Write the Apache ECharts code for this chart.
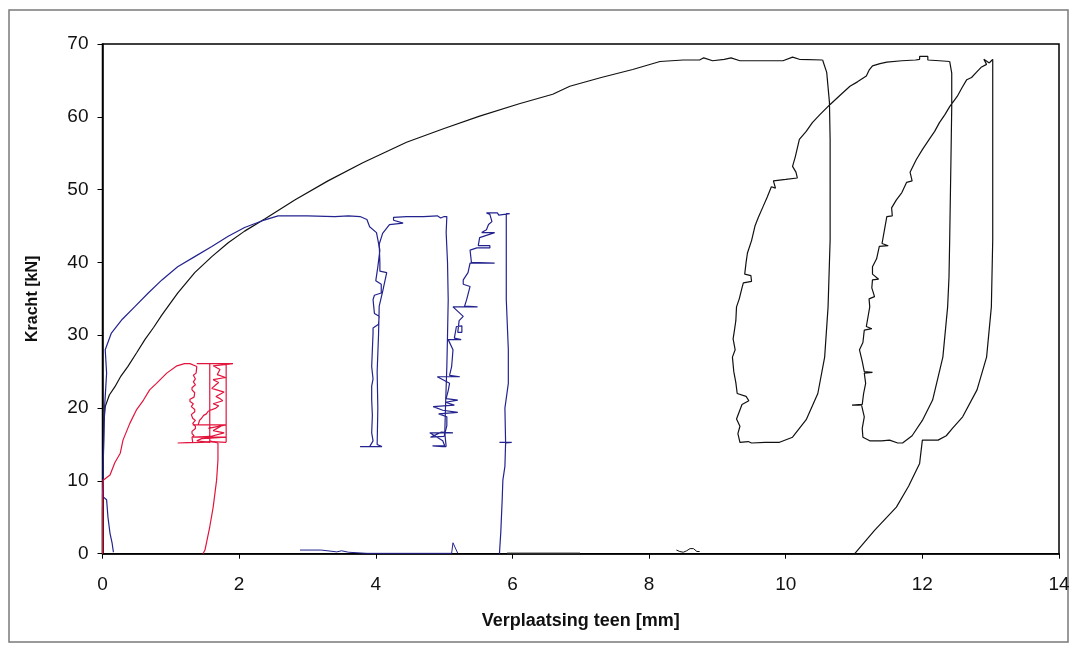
<!DOCTYPE html>
<html>
<head>
<meta charset="utf-8">
<script src="https://cdn.jsdelivr.net/npm/echarts@6/dist/echarts.min.js"></script>
<style>
html,body{margin:0;padding:0;background:#fff;}
#chart{width:1076px;height:650px;}
</style>
</head>
<body>
<div id="chart"></div>
<script>
// ---- axis ticks ----
var xTicks = [0, 2, 4, 6, 8, 10, 12, 14];
var yTicks = [0, 10, 20, 30, 40, 50, 60, 70];
var xTitle = 'Verplaatsing teen [mm]';
var yTitle = 'Kracht [kN]';

// ---- red test ----
var redLoad = [[0,0],[0,4],[0,8],[0.01,10.1],[0.11,10.8],[0.18,12.5],[0.26,13.8],[0.3,15.6],[0.4,17.9],[0.5,19.8],[0.6,21.1],[0.69,22.5],[0.79,23.4],[0.94,24.8],[1.09,25.8],[1.2,26.1],[1.28,26.1],[1.38,25.7],[1.37,24.8],[1.33,24.5],[1.36,24],[1.33,23.6],[1.36,23.2],[1.31,22.8],[1.31,22.5],[1.35,22.1],[1.34,21.5],[1.28,21.2],[1.28,20.9],[1.33,20.6],[1.3,20.2],[1.35,19.8],[1.35,19.5],[1.3,19.1],[1.32,18.6],[1.36,18.3],[1.32,17.9],[1.36,17.5],[1.36,17.2],[1.31,16.8],[1.31,16.5],[1.34,16.2],[1.31,16],[1.32,15.3],[1.1,15.2],[1.45,15.3],[1.6,15.4],[1.81,15.3]];
var redCycles = [[1.81,15.3],[1.81,26.1],[1.38,26.1],[1.91,26.1],[1.62,25.8],[1.72,25.3],[1.68,24.6],[1.8,24.2],[1.62,23.9],[1.7,23.5],[1.66,23.2],[1.6,22.7],[1.78,22.2],[1.66,21.6],[1.72,21.3],[1.76,21],[1.62,20.6],[1.7,20.3],[1.66,20],[1.55,19.6],[1.52,19.2],[1.48,19],[1.45,18.6],[1.42,18.3],[1.4,17.7],[1.32,17.7],[1.81,17.7],[1.55,17.2],[1.75,17.6],[1.62,16.9],[1.78,16.6],[1.58,16.1],[1.32,16.0],[1.81,16.0],[1.45,15.8],[1.38,15.5],[1.57,15.3],[1.57,26.1],[1.57,15.5],[1.69,15.2]];
var redUnload = [[1.69,15.2],[1.69,12.9],[1.67,10.1],[1.62,6.4],[1.57,3.7],[1.5,0.5],[1.47,0]];

// ---- blue test ----
var blueLoad = [[0.16,0.2],[0.14,1.5],[0.11,2.8],[0.08,5],[0.06,7.4],[0.01,7.8],[0.01,12],[0.02,16],[0.03,20],[0.06,24.8],[0.04,28],[0.13,30.3],[0.29,32.2],[0.47,33.9],[0.67,35.8],[0.87,37.6],[1.1,39.4],[1.35,40.8],[1.6,42.2],[1.84,43.6],[2.08,44.8],[2.33,45.7],[2.57,46.4],[3.0,46.4],[3.4,46.3],[3.6,46.4],[3.77,46.3],[3.87,45.9],[3.91,44.9],[4.01,44.1],[4.06,41.7]];
var blueCycle1 = [[4.06,41.7],[4.03,39.4],[4.0,37.5],[4.08,37],[4.08,35.8],[3.98,35.5],[3.96,34.9],[3.98,33],[4.05,32.6],[4.04,31.5],[3.96,31],[3.96,30.3],[3.95,28],[3.94,25.7],[3.96,24],[3.94,23],[3.94,21.1],[3.95,19],[3.94,16.6],[3.96,15.5],[3.91,14.7],[3.77,14.7],[4.09,14.7],[4.02,15],[4.03,20],[4.02,25],[4.04,30],[4.05,34],[4.1,36],[4.16,38.6],[4.06,38.8],[4.06,40],[4.05,42.5],[4.1,44],[4.2,45.2],[4.4,45.4],[4.26,45.8],[4.26,46.2],[4.45,46.3],[4.7,46.3],[4.9,46.4],[4.95,46.1],[5.0,46.3],[5.04,46.3],[5.03,44.1],[5.05,40],[5.06,34.9],[5.05,30],[5.04,25.7],[5.02,20],[5.01,16.6],[5.03,14.7]];
var blueCycle2 = [[5.03,14.7],[4.98,14.7],[4.83,14.8],[5.01,14.8],[4.98,15.5],[4.79,16.6],[5.13,16.6],[4.96,16.7],[4.8,16.0],[5.0,16.1],[5.04,17.6],[5.04,18.8],[4.92,19.2],[5.2,19.4],[4.98,19.7],[4.84,20.2],[5.15,20.4],[5.02,20.8],[5.2,21.1],[5.03,21.3],[5.06,22.4],[5.08,23.4],[4.9,24.3],[5.23,24.3],[5.08,24.5],[5.11,25.7],[5.12,26.8],[5.13,28],[5.06,29.4],[5.25,29.4],[5.15,29.6],[5.18,31.2],[5.26,31.3],[5.26,30.4],[5.2,30.4],[5.22,32],[5.28,32.6],[5.13,33.9],[5.49,33.9],[5.3,34.0],[5.33,34.9],[5.38,36.7],[5.28,37.0],[5.28,37.6],[5.35,38.6],[5.38,39.9],[5.74,39.9],[5.4,40.0],[5.38,41.7],[5.48,42],[5.67,42],[5.67,42.3],[5.5,42.3],[5.52,43.4],[5.74,44.1],[5.55,44.1],[5.62,44.5],[5.65,45.2],[5.7,45.6],[5.67,46.6],[5.62,46.8],[5.78,46.8],[5.8,46.5],[5.78,46.3],[5.82,46.7],[5.96,46.7],[5.91,46.7],[5.91,40],[5.91,34.9],[5.94,28],[5.94,23.4],[5.89,20],[5.9,15.3],[5.81,15.3],[5.99,15.3],[5.9,15.2],[5.89,12],[5.86,10.1],[5.85,7.4],[5.83,3],[5.81,0]];
var blueBase = [[2.89,0.5],[3.2,0.5],[3.43,0.25],[3.5,0.4],[3.6,0.2],[3.87,0.05],[5.11,0.05],[5.13,1.5],[5.2,0.05]];

// ---- black test ----
var blackLoad = [[0,0],[0,6],[0.01,12],[0.02,18],[0.04,20.2],[0.1,21.8],[0.18,22.9],[0.27,24.4],[0.37,25.7],[0.5,27.6],[0.62,29.4],[0.75,31.1],[0.87,32.8],[1.1,35.8],[1.35,38.6],[1.6,40.8],[1.84,42.7],[2.08,44.3],[2.38,46.0],[2.82,48.6],[3.3,51.2],[3.81,53.7],[4.45,56.5],[5.0,58.4],[5.52,60.1],[6.1,61.8],[6.59,63.1],[6.84,64.2],[7.3,65.4],[7.76,66.5],[8.16,67.6],[8.5,67.8],[8.74,67.8],[8.8,68.1],[8.93,67.7],[9.1,67.9],[9.2,68.1],[9.33,67.7],[9.7,67.7],[9.96,67.7],[10.1,68.2],[10.2,67.9],[10.54,67.8]];
var blackCycle1 = [[10.54,67.8],[10.6,66.1],[10.64,62],[10.65,56.9],[10.65,43.1],[10.62,33.9],[10.57,27],[10.47,22],[10.3,18.4],[10.1,16],[9.91,15.3],[9.7,15.3],[9.5,15.2],[9.45,15.4],[9.33,15.3],[9.3,16.5],[9.33,17.5],[9.28,18.5],[9.32,19.5],[9.36,20.5],[9.46,21.0],[9.42,21.6],[9.29,22.0],[9.27,23.5],[9.24,25],[9.22,27],[9.26,28],[9.23,29.5],[9.25,30.7],[9.27,32],[9.28,33.9],[9.32,35],[9.36,36.5],[9.38,37.2],[9.5,37.4],[9.49,38.2],[9.4,38.4],[9.42,40],[9.44,41.3],[9.5,43],[9.55,45],[9.6,46.2],[9.67,47.7],[9.73,49],[9.79,50.4],[9.85,50.2],[9.82,51.2],[10.0,51.4],[10.17,51.6],[10.15,52.4],[10.1,53.2],[10.14,54.5],[10.2,56.9],[10.3,58],[10.39,59.2],[10.5,60.3],[10.65,61.7],[10.8,63],[10.94,64.2],[11.05,64.8],[11.18,65.6],[11.22,66.4],[11.27,67],[11.38,67.3],[11.48,67.5],[11.7,67.7],[11.9,67.8],[11.96,67.9],[11.96,68.3],[12.08,68.3],[12.08,67.8],[12.25,67.7],[12.4,67.6]];
var blackCycle2 = [[12.4,67.6],[12.43,66],[12.43,61.4],[12.42,55],[12.4,43.1],[12.39,38],[12.37,33.9],[12.3,27],[12.15,21.1],[12.0,18.3],[11.85,16.2],[11.71,15.2],[11.64,15.2],[11.52,15.6],[11.4,15.5],[11.23,15.5],[11.13,16],[11.12,17.2],[11.15,18.8],[11.11,20.4],[10.97,20.4],[11.12,20.5],[11.14,22],[11.17,23.4],[11.15,24.8],[11.27,24.9],[11.15,25],[11.12,26.4],[11.08,28],[11.13,29],[11.15,30.7],[11.26,30.9],[11.18,31.2],[11.23,33.9],[11.22,35],[11.3,35.3],[11.26,36.5],[11.27,37.6],[11.36,37.7],[11.27,38.4],[11.27,39.4],[11.33,40.5],[11.37,42.2],[11.5,42.3],[11.41,42.6],[11.44,44.2],[11.48,46.3],[11.56,46.4],[11.55,47.5],[11.62,48.6],[11.7,49.6],[11.77,51],[11.85,51.2],[11.82,52.4],[11.91,54.1],[12.0,55.5],[12.1,56.9],[12.18,58],[12.25,59.2],[12.33,60.3],[12.4,61.4],[12.51,62.8],[12.58,64],[12.65,65.1],[12.72,65.4],[12.79,66.1],[12.86,66.8],[12.94,67.2],[12.9,67.9],[12.98,67.4],[13.01,67.7],[13.03,67.9]];
var blackUnload = [[13.03,67.9],[13.03,67],[13.03,55],[13.03,43.1],[13.01,33.9],[12.94,27],[12.8,22.5],[12.59,18.8],[12.44,17.2],[12.35,16.2],[12.23,15.6],[12.0,15.6],[11.96,12.4],[11.8,9.3],[11.62,6.4],[11.3,3.2],[11.01,0]];
var blackBaseA = [[5.92,0.1],[6.99,0.1]];
var blackBaseB = [[8.4,0.5],[8.45,0.3],[8.5,0.2],[8.55,0.4],[8.6,0.7],[8.65,0.7],[8.7,0.3],[8.74,0.3]];

var RED = '#e3143c', BLUE = '#23238f', BLACK = '#111111';

function line(data, color, w) {
  return {type:'line', data:data, showSymbol:false, symbol:'none', animation:false,
    lineStyle:{color:color, width:w||1.2}, z:3};
}

var chart = echarts.init(document.getElementById('chart'), null, {renderer:'canvas'});
chart.setOption({
  backgroundColor:'#fff',
  animation:false,
  grid:{left:102.5, right:17, top:44, bottom:96.3, show:true, borderColor:'#000', borderWidth:1.5, containLabel:false},
  graphic:[{type:'rect', shape:{x:9, y:10, width:1059, height:632}, style:{fill:'none', stroke:'#7a7a7a', lineWidth:1.5}, z:-1}],
  xAxis:{type:'value', min:0, max:14, interval:2,
    name:xTitle, nameLocation:'middle', nameGap:58,
    nameTextStyle:{fontFamily:'Liberation Sans', fontWeight:'bold', fontSize:18, color:'#111'},
    axisLine:{show:true, onZero:false, lineStyle:{color:'#000', width:1.5}},
    axisTick:{show:true, inside:false, length:5, lineStyle:{color:'#000'}},
    axisLabel:{fontFamily:'Liberation Sans', fontSize:19, color:'#111', margin:22,
      formatter:function(v){return xTicks.indexOf(v)>=0?String(v):'';}},
    splitLine:{show:false}},
  yAxis:{type:'value', min:0, max:70, interval:10,
    name:yTitle, nameLocation:'middle', nameGap:62, nameRotate:90,
    nameTextStyle:{fontFamily:'Liberation Sans', fontWeight:'bold', fontSize:16, color:'#111'},
    axisLine:{show:true, onZero:false, lineStyle:{color:'#000', width:1.5}},
    axisTick:{show:true, inside:false, length:5, lineStyle:{color:'#000'}},
    axisLabel:{fontFamily:'Liberation Sans', fontSize:19, color:'#111', margin:14,
      formatter:function(v){return yTicks.indexOf(v)>=0?String(v):'';}},
    splitLine:{show:false}},
  series:[
    line(blackBaseA, '#555', 1), line(blackBaseB, BLACK, 1),
    line(blueBase, BLUE, 1),
    line(blackLoad, BLACK), line(blackCycle1, BLACK), line(blackCycle2, BLACK), line(blackUnload, BLACK),
    line(blueLoad, BLUE), line(blueCycle1, BLUE), line(blueCycle2, BLUE),
    line(redLoad, RED), line(redCycles, RED), line(redUnload, RED)
  ]
});
</script>
</body>
</html>
